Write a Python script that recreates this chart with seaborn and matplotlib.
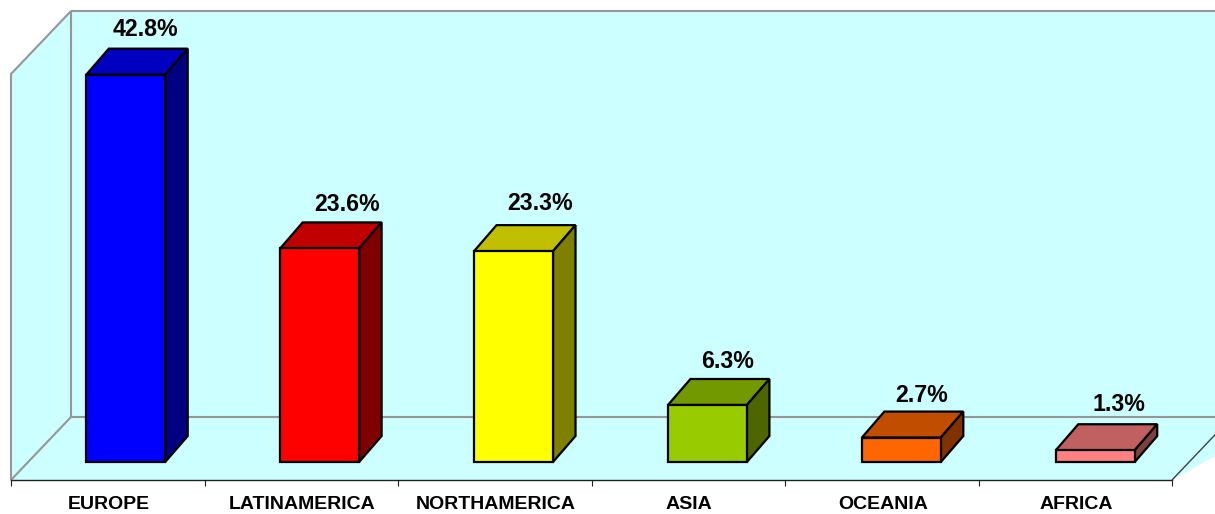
import matplotlib
matplotlib.use("Agg")
import matplotlib.pyplot as plt
import pandas as pd
import seaborn as sns
from matplotlib.patches import Polygon, Rectangle
from matplotlib.transforms import Affine2D, IdentityTransform

regions = ["EUROPE", "LATINAMERICA", "NORTHAMERICA", "ASIA", "OCEANIA", "AFRICA"]
shares = [42.8, 23.6, 23.3, 6.3, 2.7, 1.3]
front_colors = ["#0000FF", "#FF0000", "#FFFF00", "#99CC00", "#FF6600", "#FF8080"]
top_colors = ["#0000C0", "#C00000", "#C0C000", "#739900", "#C04D00", "#C06060"]
side_colors = ["#000080", "#800000", "#808000", "#4D6600", "#803300", "#804040"]

# style / layout (pixels)
W, H = 1215, 514
AX_L, AX_R, AX_B = 11, 1172, 480
PX_PER_UNIT = 9.05
BAR_SHIFT = 18
BAR_SPREAD = 0.4
DEPTH_X, DEPTH_Y = 22.5, 26
WALL_X, WALL_Y = 60, 63
LABEL_NUDGE = [(19.5, 19), (27, 18), (26.5, 22), (20.5, 17), (20.5, 16), (23.5, 20)]

sns.set_theme(style="white", rc={"font.family": ["Liberation Sans", "DejaVu Sans"]})
plt.rcParams["font.family"] = ["Liberation Sans", "DejaVu Sans"]

fig = plt.figure(figsize=(W / 100, H / 100), dpi=100, facecolor="white")
ax_h = AX_B - 74
ax = fig.add_axes([AX_L / W, (H - AX_B) / H, (AX_R - AX_L) / W, ax_h / H])
ax.patch.set_alpha(0)

df = pd.DataFrame({"region": regions, "share": shares})
sns.barplot(data=df, x="region", y="share", hue="region",
            palette=dict(zip(regions, front_colors)), width=0.408, dodge=False,
            edgecolor="black", linewidth=1.6, legend=False, ax=ax, zorder=5, saturation=1)
bars = sorted([p for p in ax.patches if isinstance(p, Rectangle) and p.get_height() > 0],
              key=lambda b: b.get_x())
ax.set_xlim(-0.5, len(regions) - 0.5)
ax.set_ylim(0, ax_h / PX_PER_UNIT)
ax.set_xlabel("")
ax.set_ylabel("")


def px(x, y):
    return (x, H - y)


identity = IdentityTransform()
wall = "#CCFFFF"
grey = "#969696"


def frame_poly(points, zorder, **kw):
    ax.add_patch(Polygon([px(*p) for p in points], closed=kw.pop("closed", True),
                         transform=identity, clip_on=False, zorder=zorder, **kw))


TOP = 11
BACK_L = AX_L + WALL_X
FLOOR = AX_B - WALL_Y
# back wall and floor
frame_poly([(BACK_L, TOP), (W + 5, TOP), (W + 5, FLOOR), (BACK_L, FLOOR)], 0.5, facecolor=wall, edgecolor="none")
frame_poly([(AX_L, AX_B), (BACK_L, FLOOR), (W + 70, FLOOR), (AX_R, AX_B)], 0.5, facecolor=wall, edgecolor="none")
# side wall
frame_poly([(AX_L, 74), (BACK_L, TOP), (BACK_L, FLOOR), (AX_L, AX_B)], 0.6, facecolor=wall, edgecolor=grey, linewidth=1.5)
# grey frame lines
frame_poly([(BACK_L, FLOOR), (W + 5, FLOOR)], 1, closed=False, fill=False, edgecolor=grey, linewidth=1.5)
frame_poly([(BACK_L, TOP), (W + 5, TOP)], 1, closed=False, fill=False, edgecolor=grey, linewidth=1.5)
frame_poly([(AX_R, AX_B), (AX_R + WALL_X, FLOOR)], 1, closed=False, fill=False, edgecolor="#404040", linewidth=1)

# 3-D faces and labels built from the bars seaborn drew
for i, bar in enumerate(bars):
    x0 = bar.get_x()
    x1 = x0 + bar.get_width()
    h = bar.get_height()
    sx = BAR_SHIFT + BAR_SPREAD * i
    (dx0, dy0), (dx1, dy1) = ax.transData.transform([(x0, 0), (x1, h)])
    dx0 += sx; dx1 += sx; dy0 += BAR_SHIFT; dy1 += BAR_SHIFT
    bar.set_transform(ax.transData + Affine2D().translate(sx, BAR_SHIFT))
    bar.set_clip_on(False)
    top = [(dx0, dy1), (dx1, dy1), (dx1 + DEPTH_X, dy1 + DEPTH_Y), (dx0 + DEPTH_X, dy1 + DEPTH_Y)]
    side = [(dx1, dy0), (dx1 + DEPTH_X, dy0 + DEPTH_Y), (dx1 + DEPTH_X, dy1 + DEPTH_Y), (dx1, dy1)]
    for pts, col in ((top, top_colors[i]), (side, side_colors[i])):
        ax.add_patch(Polygon(pts, closed=True, transform=identity, clip_on=False, zorder=4,
                             facecolor=col, edgecolor="black", linewidth=1.6, joinstyle="miter"))
    nx, ny = LABEL_NUDGE[i]
    ax.text((dx0 + dx1) / 2 + nx, dy1 + DEPTH_Y + ny, f"{shares[i]:.1f}%", transform=identity,
            ha="center", va="center", fontsize=16.7, fontweight="bold", color="black", clip_on=False, zorder=6)

# axis
for name, spine in ax.spines.items():
    spine.set_visible(name == "bottom")
ax.spines["bottom"].set_color("#202020")
ax.spines["bottom"].set_linewidth(1)
ax.set_yticks([])
ax.set_xticks([i - 0.5 for i in range(len(regions) + 1)])
ax.set_xticklabels([])
ax.set_xticks([i + 0.005 for i in range(len(regions))], minor=True)
ax.set_xticklabels(regions, minor=True, fontsize=14, fontweight="bold", color="black")
ax.tick_params(axis="x", which="major", length=4.3, width=0.8, color="#202020", direction="out", bottom=True)
ax.tick_params(axis="x", which="minor", length=0, pad=11.5)

fig.savefig("out.png", dpi=100, facecolor="white")
